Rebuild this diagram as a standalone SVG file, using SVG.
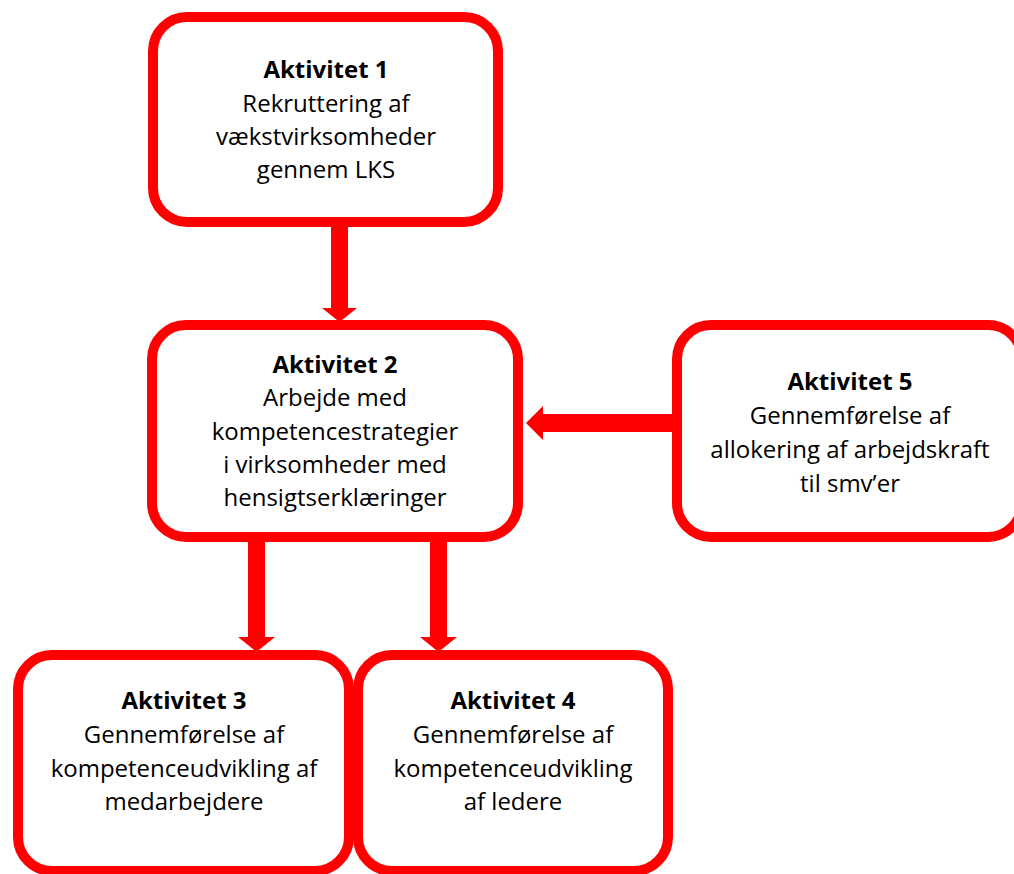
<svg xmlns="http://www.w3.org/2000/svg" width="1014" height="874" viewBox="0 0 1014 874">
<style>
.box{fill:#fff;stroke:#ff0000;stroke-width:10}
.t{font-family:"Open Sans","Liberation Sans",sans-serif;font-size:24px;fill:#000;text-anchor:middle}
.b{font-weight:bold}
.arr{fill:#ff0000;stroke:none}
</style>
<rect width="1014" height="874" fill="#fff"/>
<g id="connectors">
<polygon class="arr" points="331,226 348,226 348,308 357,308 339.5,322 322,308 331,308"/>
<polygon class="arr" points="248,541 265,541 265,637 275,637 256.5,652 238,637 248,637"/>
<polygon class="arr" points="430,541 447,541 447,637 457,637 438.5,652 420,637 430,637"/>
<polygon class="arr" points="673,414 673,432 543,432 543,440 526,423 543,406 543,414"/>
</g>
<g id="node1">
<rect class="box" x="153" y="17" width="345" height="205" rx="34"/>
<text class="t b" x="326" y="78">Aktivitet 1</text>
<text class="t" x="326" y="111.5">Rekruttering af</text>
<text class="t" x="326" y="145">vækstvirksomheder</text>
<text class="t" x="326" y="178">gennem LKS</text>
</g>
<g id="node2">
<rect class="box" x="152" y="325" width="366" height="212" rx="34"/>
<text class="t b" x="335" y="373">Aktivitet 2</text>
<text class="t" x="335" y="406">Arbejde med</text>
<text class="t" x="335" y="440">kompetencestrategier</text>
<text class="t" x="335" y="473">i virksomheder med</text>
<text class="t" x="335" y="506">hensigtserklæringer</text>
</g>
<g id="node5">
<rect class="box" x="677" y="325" width="345" height="212" rx="34"/>
<text class="t b" x="850" y="390">Aktivitet 5</text>
<text class="t" x="850" y="424">Gennemførelse af</text>
<text class="t" x="850" y="458">allokering af arbejdskraft</text>
<text class="t" x="850" y="492">til smv’er</text>
</g>
<g id="node3">
<rect class="box" x="18" y="655" width="331" height="216" rx="34"/>
<text class="t b" x="184" y="709">Aktivitet 3</text>
<text class="t" x="184" y="743">Gennemførelse af</text>
<text class="t" x="184" y="777">kompetenceudvikling af</text>
<text class="t" x="184" y="810">medarbejdere</text>
</g>
<g id="node4">
<rect class="box" x="358" y="655" width="310" height="216" rx="34"/>
<text class="t b" x="513" y="709">Aktivitet 4</text>
<text class="t" x="513" y="743">Gennemførelse af</text>
<text class="t" x="513" y="777">kompetenceudvikling</text>
<text class="t" x="513" y="810">af ledere</text>
</g>
</svg>
